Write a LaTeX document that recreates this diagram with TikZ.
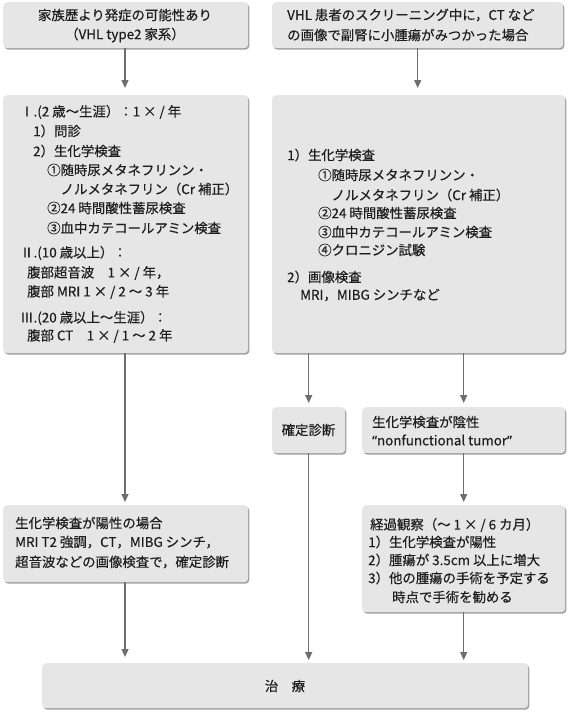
\documentclass[tikz,border=0pt]{standalone}
\usepackage{fontspec}
\setmainfont{Noto Sans CJK JP}[FakeBold=0.35]
\newfontfamily\latq{Noto Sans}[FakeBold=0.35]
\usetikzlibrary{shadows,arrows.meta}
\definecolor{boxgray}{HTML}{E6E6E6}
\definecolor{txtc}{HTML}{1E1E1E}
\definecolor{arrc}{HTML}{6E6E6E}
\newcommand{\fs}{\fontsize{13.4}{16}\selectfont}
\tikzset{
  box/.style={fill=boxgray, rounded corners=4pt, inner sep=0pt, anchor=north west,
    drop shadow={shadow xshift=1.2pt, shadow yshift=-1.5pt, fill=black!50, opacity=0.75}},
  tl/.style={anchor=west, inner sep=0pt, font=\fs, text=txtc},
  tc/.style={anchor=center, inner sep=0pt, font=\fs, text=txtc},
  arr/.style={draw=arrc, line width=1.2pt, -{Triangle[width=7pt,length=8pt]}, arrc}
}
\begin{document}
\begin{tikzpicture}[x=1pt,y=-1pt]
\useasboundingbox (0,0) rectangle (570,713);
% boxes
\node[box, minimum width=245, minimum height=46] (b1) at (3,2) {};
\node[box, minimum width=291, minimum height=46] (b2) at (272,2) {};
\node[box, minimum width=245, minimum height=258] (b3) at (3,95) {};
\node[box, minimum width=293, minimum height=258] (b4) at (272,95) {};
\node[box, minimum width=245, minimum height=77] (b5) at (3,505) {};
\node[box, minimum width=73, minimum height=46] (b6) at (272,407) {};
\node[box, minimum width=203, minimum height=46] (b7) at (362,407) {};
\node[box, minimum width=203, minimum height=107] (b8) at (362,505) {};
\node[box, minimum width=486, minimum height=45] (b9) at (42,663) {};
% box 1
\node[tc] (t1a) at (125,15) {家族歴より発症の可能性あり};
\node[tc] (t1b) at (125,35) {（VHL type2 家系）};
% box 2
\node[tl] (t2a) at (287,15) {VHL 患者のスクリーニング中に，CT など};
\node[tl] (t2b) at (287,35) {の画像で副腎に小腫瘍がみつかった場合};
% box 3
\node[tl] (t3a) at (20,112) {Ⅰ.(2 歳〜生涯）：1 × / 年};
\node[tl] (t3b) at (33,131) {1）問診};
\node[tl] (t3c) at (33,151) {2）生化学検査};
\node[tl] (t3d) at (47,170) {①随時尿メタネフリンン・};
\node[tl] (t3e) at (60.5,189) {ノルメタネフリン（Cr 補正）};
\node[tl] (t3f) at (47,208) {②24 時間酸性蓄尿検査};
\node[tl] (t3g) at (47,228) {③血中カテコールアミン検査};
\node[tl] (t3h) at (20,253) {Ⅱ.(10 歳以上）：};
\node[tl] (t3i) at (27,273) {腹部超音波　1 × / 年，};
\node[tl] (t3j) at (27,292) {腹部 MRI 1 × / 2 〜 3 年};
\node[tl] (t3k) at (20,318) {Ⅲ.(20 歳以上〜生涯）：};
\node[tl] (t3l) at (27,336) {腹部 CT　1 × / 1 〜 2 年};
% box 4
\node[tl] (t4a) at (287,155) {1）生化学検査};
\node[tl] (t4b) at (318,175) {①随時尿メタネフリンン・};
\node[tl] (t4c) at (331.5,195) {ノルメタネフリン（Cr 補正）};
\node[tl] (t4d) at (318,213) {②24 時間酸性蓄尿検査};
\node[tl] (t4e) at (318,232) {③血中カテコールアミン検査};
\node[tl] (t4f) at (318,250) {④クロニジン試験};
\node[tl] (t4g) at (287,277) {2）画像検査};
\node[tl] (t4h) at (300,295) {MRI，MIBG シンチなど};
% box 5
\node[tl] (t5a) at (15,523) {生化学検査が陽性の場合};
\node[tl] (t5b) at (15,542) {MRI T2 強調，CT，MIBG シンチ，};
\node[tl] (t5c) at (15,562) {超音波などの画像検査で，確定診断};
% box 6
\node[tc] (t6) at (308.5,430) {確定診断};
% box 7
\node[tl] (t7a) at (372,422) {生化学検査が陰性};
\node[tl] (t7b) at (372,440) {{\latq “}nonfunctional tumor{\latq ”}};
% box 8
\node[tl] (t8a) at (370,525) {経過観察（〜 1 × / 6 カ月）};
\node[tl] (t8b) at (368,542) {1）生化学検査が陽性};
\node[tl] (t8c) at (368,560) {2）腫瘍が 3.5cm 以上に増大};
\node[tl] (t8d) at (368,578) {3）他の腫瘍の手術を予定する};
\node[tl] (t8e) at (392,597) {時点で手術を勧める};
% box 9
\node[tc] (t9) at (285,686) {治　療};
% arrows
\draw[arr, shorten >=7pt] (b1.south -| t1a.south) -- (b3.north -| t1a.south);
\draw[arr, shorten >=7pt] (b2.south) -- (b4.north -| b2.south);
\draw[arr, shorten >=3pt] (b3.south -| t1a.south) -- (b5.north -| t1a.south);
\draw[arr, shorten >=4pt] (b4.south -| b6.north) -- (b6.north);
\draw[arr, shorten >=4pt] (b4.south -| b7.north) -- (b7.north);
\draw[arr, shorten >=3pt] (b7.south) -- (b8.north);
\draw[arr, shorten >=6pt] (b5.south -| t1a.south) -- (b9.north -| t1a.south);
\draw[arr, shorten >=3pt] (b6.south) -- (b9.north -| b6.south);
\draw[arr, shorten >=3pt] (b8.south) -- (b9.north -| b8.south);
\end{tikzpicture}
\end{document}
